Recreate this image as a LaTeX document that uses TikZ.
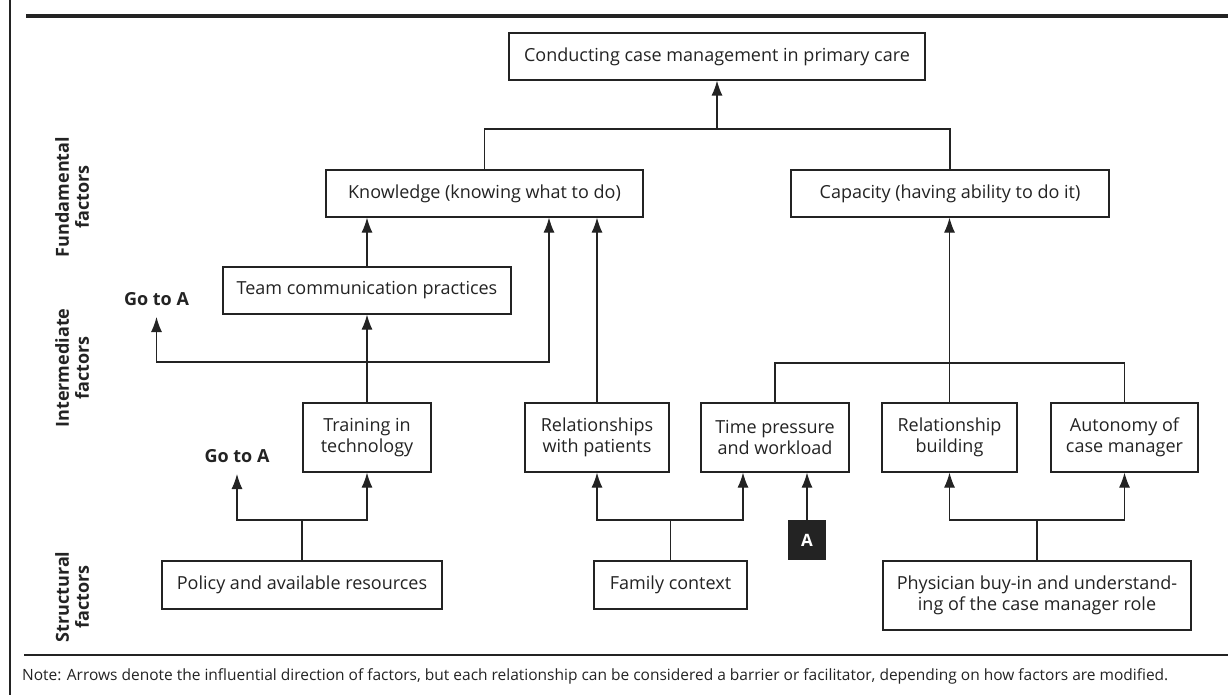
\documentclass[tikz,border=0pt]{standalone}
\usepackage{fontspec}
\setmainfont{Open Sans}
\usetikzlibrary{arrows.meta}
\definecolor{ink}{RGB}{35,35,35}
\begin{document}
\begin{tikzpicture}[x=1pt,y=-1pt,
  box/.style={draw=ink, line width=1.2pt, fill=white, inner sep=0pt, font=\fontsize{18}{21}\selectfont, text=ink, align=center},
  arr/.style={draw=ink, line width=1.2pt, -{Latex[length=15pt,width=11pt]}},
  ln/.style={draw=ink, line width=1.2pt},
  lab/.style={font=\bfseries\fontsize{18}{20}\selectfont, text=ink, align=center, rotate=90},
  goto/.style={font=\bfseries\fontsize{18}{20}\selectfont, text=ink, inner sep=0pt}]
\useasboundingbox (0,0) rectangle (1228,695);
% frame
\draw[ln] (10,0) -- (10,695);
\draw[ink, line width=4pt] (26,16) -- (1228,16);
\draw[ink, line width=1.1pt] (24,655) -- (1228,655);
\node[anchor=base west, inner sep=0pt, font=\fontsize{15.5}{17}\selectfont, text=ink] (note) at (22,680) {Note: Arrows denote the influential direction of factors, but each relationship can be considered a barrier or facilitator, depending on how factors are modified.};
% side labels
\node[lab] (lf) at (72,197) {Fundamental\\factors};
\node[lab] (li) at (72,368) {Intermediate\\factors};
\node[lab] (ls) at (72,597) {Structural\\factors};
% boxes
\node[box, minimum width=416, minimum height=47] (top) at (717,56.5) {Conducting case management in primary care};
\node[box, minimum width=317, minimum height=47] (know) at (484.5,193.5) {Knowledge (knowing what to do)};
\node[box, minimum width=318, minimum height=47] (cap) at (950,193.5) {Capacity (having ability to do it)};
\node[box, minimum width=288, minimum height=47] (team) at (367,290.5) {Team communication practices};
\node[box, minimum width=128, minimum height=69] (train) at (367,437.5) {Training in\\technology};
\node[box, minimum width=144, minimum height=69] (rel) at (597,437.5) {Relationships\\with patients};
\node[box, minimum width=148, minimum height=69] (time) at (775,437.5) {Time pressure\\and workload};
\node[box, minimum width=135, minimum height=69] (rb) at (949.5,437.5) {Relationship\\building};
\node[box, minimum width=147, minimum height=69] (aut) at (1124.5,437.5) {Autonomy of\\case manager};
\node[box, minimum width=280, minimum height=48] (pol) at (302,585) {Policy and available resources};
\node[box, minimum width=153, minimum height=48] (fam) at (670.5,585) {Family context};
\node[box, minimum width=308, minimum height=69] (phys) at (1037,595.5) {Physician buy-in and understand-\\ing of the case manager role};
\node[box, fill=ink, minimum width=36, minimum height=38, text=white, font=\bfseries\fontsize{17}{18}\selectfont] (A) at (807,540) {A};
% go to A labels
\node[goto, anchor=base] (goA1) at (156.5,305) {Go to A};
\node[goto, anchor=base] (goA2) at (237,462) {Go to A};
\coordinate (ga1) at (156.5,317);
\coordinate (ga2) at (237,474);
% junctions
\coordinate (j1) at (717,129);
\coordinate (jt) at (367,362);
\coordinate (jr) at (950,363);
\coordinate (jp) at (302,520);
\coordinate (jf) at (670.5,520);
\coordinate (jph) at (1037,520);
% connectors
\draw[ln] (know.north) |- (j1) -| (cap.north);
\draw[arr] (j1) -- (top.south);
\draw[arr] (team.north) -- (team.north |- know.south);
\draw[arr] (train.north) -- (train.north |- team.south);
\draw[arr] (jt) -| (ga1);
\draw[arr] (jt) -| ([xshift=64.5pt]know.south);
\draw[arr] (rel.north) -- (rel.north |- know.south);
\draw[ln] (time.north) |- (jr) -| (aut.north);
\draw[arr] (rb.north) -- (rb.north |- cap.south);
\draw[ln] (pol.north) -- (jp);
\draw[arr] (jp) -| (ga2);
\draw[arr] (jp) -| (train.south);
\draw[ln] (fam.north) -- (jf);
\draw[arr] (jf) -| (rel.south);
\draw[arr] (jf) -| ([xshift=-32pt]time.south);
\draw[arr] (A.north) -- (A.north |- time.south);
\draw[ln] (phys.north) -- (jph);
\draw[arr] (jph) -| (rb.south);
\draw[arr] (jph) -| (aut.south);
\end{tikzpicture}
\end{document}
